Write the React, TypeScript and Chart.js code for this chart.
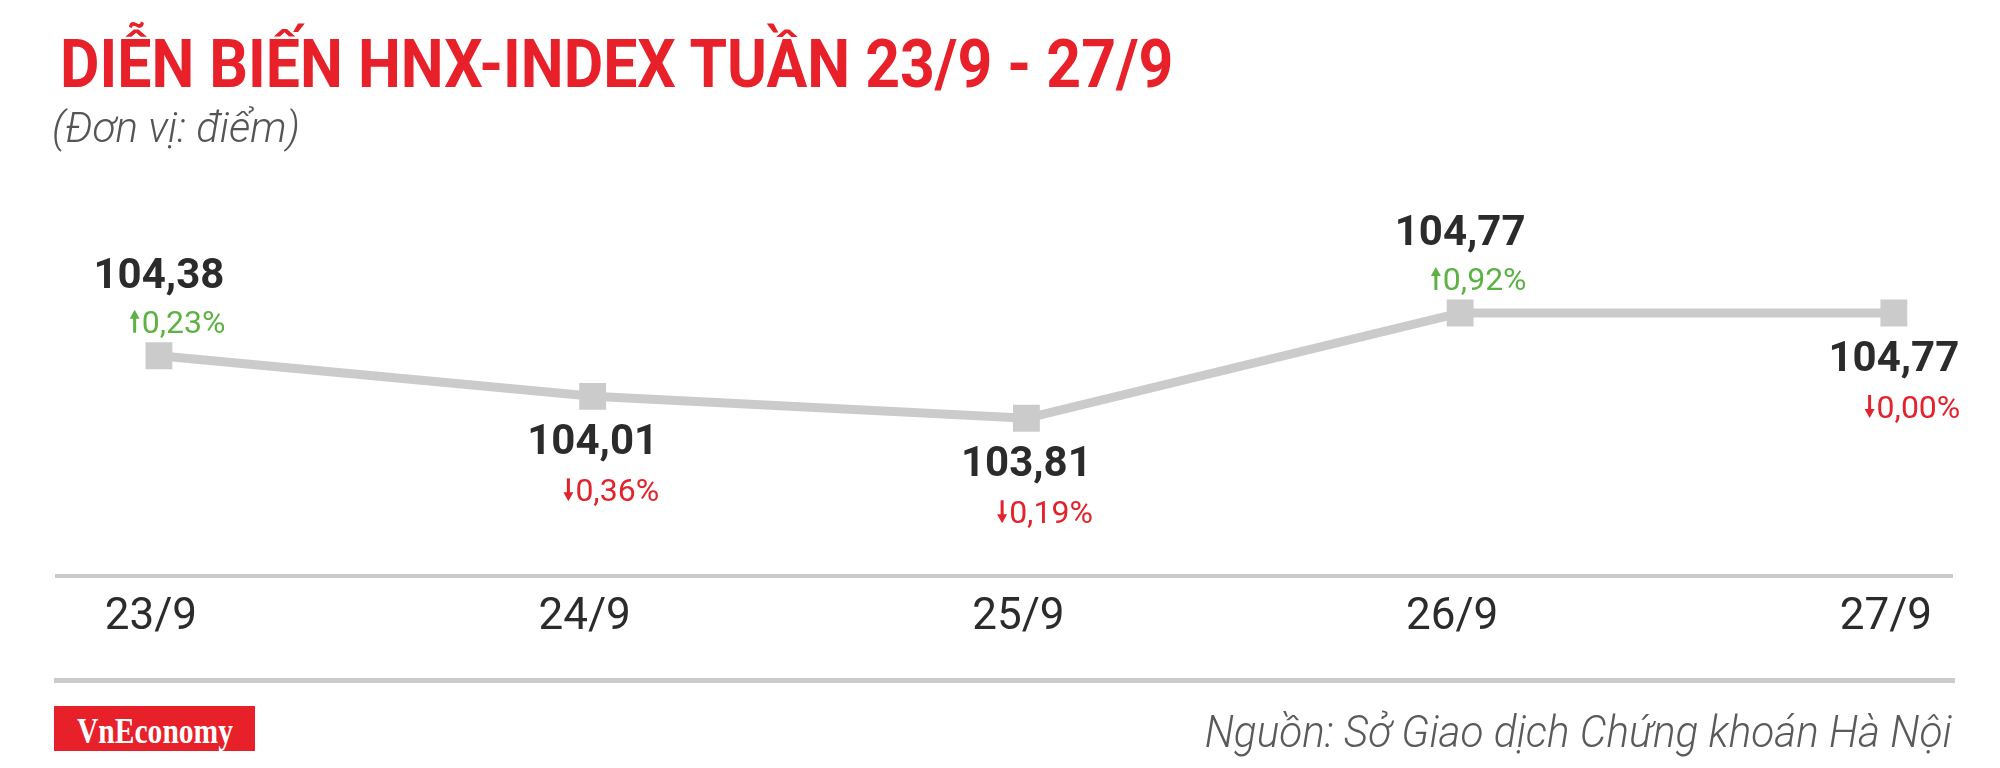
import React, { useEffect, useRef } from 'react';
import { Chart, registerables } from 'chart.js';

Chart.register(...registerables);

// ---- Data ----
const categories = ['23/9', '24/9', '25/9', '26/9', '27/9'];
const indexValues = [104.38, 104.01, 103.81, 104.77, 104.77];
const changePercents = [0.23, 0.36, 0.19, 0.92, 0.0];
const changeDirections = ['up', 'down', 'down', 'up', 'down'];

const TITLE = 'DIỄN BIẾN HNX-INDEX TUẦN 23/9 - 27/9';
const SUBTITLE = '(Đơn vị: điểm)';
const SOURCE = 'Nguồn: Sở Giao dịch Chứng khoán Hà Nội';
const BRAND = 'VnEconomy';

// ---- Styles ----
const RED = '#e8202a';
const GREEN = '#5cb344';
const DOWN_RED = '#e3222b';
const LINE = '#cbcbcb';
const DARK = '#2b2b2b';
const labelAbove = [true, false, false, true, false];

const fmt = (v: number) => v.toFixed(2).replace('.', ',');

function measure(text: string, font: string): number {
  const c = document.createElement('canvas').getContext('2d') as CanvasRenderingContext2D;
  c.font = font;
  return c.measureText(text).width;
}

type FitProps = {
  text: string;
  family: string;
  size: number;
  weight?: number | string;
  italic?: boolean;
  color: string;
  width: number;
  x: number;
  top: number;
  anchor?: 'left' | 'right';
};

function FitText({ text, family, size, weight = 400, italic = false, color, width, x, top, anchor = 'left' }: FitProps) {
  const font = `${italic ? 'italic ' : ''}${weight} ${size}px ${family}`;
  const natural = measure(text, font) || width;
  const s = width / natural;
  return (
    <div
      style={{
        position: 'absolute',
        top,
        left: anchor === 'left' ? x : x - natural,
        whiteSpace: 'pre',
        fontFamily: family,
        fontSize: size,
        fontWeight: weight as any,
        fontStyle: italic ? 'italic' : 'normal',
        lineHeight: `${size}px`,
        color,
        transform: `scaleX(${s})`,
        transformOrigin: anchor === 'left' ? 'left top' : 'right top',
      }}
    >
      {text}
    </div>
  );
}

function drawArrow(ctx: CanvasRenderingContext2D, cx: number, top: number, bottom: number, up: boolean, color: string) {
  const headH = 9;
  const headW = 10;
  ctx.save();
  ctx.strokeStyle = color;
  ctx.fillStyle = color;
  ctx.lineWidth = 3;
  ctx.beginPath();
  if (up) {
    ctx.moveTo(cx, top + headH - 1);
    ctx.lineTo(cx, bottom);
  } else {
    ctx.moveTo(cx, top);
    ctx.lineTo(cx, bottom - headH + 1);
  }
  ctx.stroke();
  ctx.beginPath();
  if (up) {
    ctx.moveTo(cx, top);
    ctx.lineTo(cx - headW / 2, top + headH);
    ctx.lineTo(cx + headW / 2, top + headH);
  } else {
    ctx.moveTo(cx, bottom);
    ctx.lineTo(cx - headW / 2, bottom - headH);
    ctx.lineTo(cx + headW / 2, bottom - headH);
  }
  ctx.closePath();
  ctx.fill();
  ctx.restore();
}

const labelPlugin = {
  id: 'pointLabels',
  afterDatasetsDraw(chart: any) {
    const ctx: CanvasRenderingContext2D = chart.ctx;
    const meta = chart.getDatasetMeta(0);
    meta.data.forEach((pt: any, i: number) => {
      const x = pt.x;
      const y = pt.y;
      const valText = fmt(indexValues[i]);
      ctx.save();
      ctx.font = 'bold 42px Roboto';
      ctx.fillStyle = DARK;
      ctx.textAlign = 'center';
      ctx.textBaseline = 'alphabetic';
      const vy = labelAbove[i] ? y - 68 : y + 58;
      ctx.fillText(valText, x, vy);
      const vw = ctx.measureText(valText).width;
      const right = x + vw / 2 + 1;

      const up = changeDirections[i] === 'up';
      const col = up ? GREEN : DOWN_RED;
      const py = labelAbove[i] ? y - 23 : y + 105;
      const pText = fmt(changePercents[i]) + '%';
      ctx.font = '32px Roboto';
      ctx.fillStyle = col;
      ctx.textAlign = 'right';
      ctx.fillText(pText, right, py);
      const pw = ctx.measureText(pText).width;
      drawArrow(ctx, right - pw - 7, py - 23, py, up, col);
      ctx.restore();
    });
  },
};

export default function App() {
  const canvasRef = useRef<HTMLCanvasElement | null>(null);

  useEffect(() => {
    const canvas = canvasRef.current;
    if (!canvas) return;
    const chart = new Chart(canvas, {
      type: 'line',
      data: {
        datasets: [
          {
            data: indexValues.map((v, i) => ({ x: i, y: v })),
            borderColor: LINE,
            borderWidth: 9,
            pointStyle: 'rect',
            pointRadius: 19,
            pointBackgroundColor: LINE,
            pointBorderColor: LINE,
            pointBorderWidth: 0,
            tension: 0,
          },
        ],
      },
      options: {
        responsive: false,
        animation: false,
        layout: { padding: { left: 57, right: 48, top: 200, bottom: 109 } },
        plugins: {
          legend: { display: false },
          tooltip: { enabled: false },
          title: { display: false },
        },
        scales: {
          x: {
            type: 'linear',
            min: -0.235,
            max: 4.134,
            afterBuildTicks: (s: any) => {
              s.ticks = categories.map((_, i) => ({ value: i }));
            },
            ticks: {
              callback: (v: any) => categories[v] ?? '',
              font: { family: 'Roboto', size: 44 },
              color: DARK,
              padding: 15,
              labelOffset: -8,
              autoSkip: false,
              maxRotation: 0,
            },
            grid: { display: false, drawTicks: false },
            border: { display: true, color: LINE, width: 4 },
          },
          y: { display: false, min: 102.37, max: 105.8 },
        },
      } as any,
      plugins: [labelPlugin],
    });
    return () => chart.destroy();
  }, []);

  return (
    <div style={{ position: 'fixed', left: 0, top: 0, width: 2000, height: 768, background: '#fff', overflow: 'hidden' }}>
      <canvas ref={canvasRef} width={2000} height={768} style={{ position: 'absolute', left: 0, top: 0, width: 2000, height: 768 }} />
      <FitText text={TITLE} family="Roboto" size={66} weight={700} color={RED} width={1115} x={60} top={32} />
      <FitText text={SUBTITLE} family="Roboto" size={42} weight={300} italic color="#555" width={248} x={52} top={107} />
      <div style={{ position: 'absolute', left: 54, top: 680 - 2.5, width: 1901, height: 5, background: LINE }} />
      <div style={{ position: 'absolute', left: 54, top: 706, width: 201, height: 45, background: RED }} />
      <FitText text={BRAND} family="'Liberation Serif'" size={36} weight={700} color="#fff" width={156} x={77} top={713} />
      <FitText text={SOURCE} family="Roboto" size={44} weight={300} italic color="#5a5a5a" width={747} x={1952} top={710} anchor="right" />
    </div>
  );
}
